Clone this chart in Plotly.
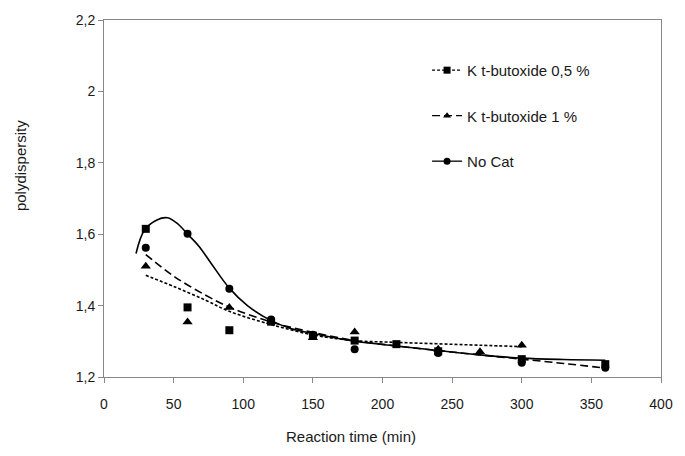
import plotly.graph_objects as go

# ---- data ----
sq_x = [30, 60, 90, 120, 150, 180, 210, 240, 300, 360]
sq_y = [1.615, 1.395, 1.331, 1.355, 1.316, 1.302, 1.292, 1.272, 1.250, 1.236]

tri_x = [30, 60, 90, 120, 150, 180, 240, 270, 300]
tri_y = [1.510, 1.354, 1.395, 1.356, 1.310, 1.326, 1.278, 1.271, 1.289]

cir_x = [30, 60, 90, 120, 150, 180, 240, 300, 360]
cir_y = [1.562, 1.601, 1.447, 1.361, 1.318, 1.278, 1.267, 1.240, 1.226]

# trend curves
dot_x = [30, 51, 73, 90, 120, 150, 180, 210, 240, 270, 300]
dot_y = [1.485, 1.452, 1.415, 1.384, 1.347, 1.318, 1.302, 1.297, 1.293, 1.289, 1.285]

dash_x = [30, 51, 73, 90, 120, 150, 180, 210, 240, 270, 300, 330, 360]
dash_y = [1.543, 1.480, 1.429, 1.396, 1.354, 1.325, 1.302, 1.287, 1.274, 1.262, 1.250, 1.238, 1.225]

sol_x = [23, 29, 38, 45.5, 53, 60, 68, 77, 90, 103, 119, 134, 150, 180, 210, 240, 270, 300, 330, 360]
sol_y = [1.546, 1.611, 1.640, 1.646, 1.629, 1.600, 1.567, 1.518, 1.449, 1.400, 1.360, 1.336, 1.322, 1.300, 1.287, 1.274, 1.262, 1.253, 1.249, 1.247]

legend_names = ["K t-butoxide 0,5 %", "K t-butoxide 1 %", "No Cat"]

x_ticks = [0, 50, 100, 150, 200, 250, 300, 350, 400]
y_ticks = [1.2, 1.4, 1.6, 1.8, 2.0, 2.2]
y_tick_text = ["1,2", "1,4", "1,6", "1,8", "2", "2,2"]

FONT = "Liberation Sans, Arial, sans-serif"
BLK = "black"
TXT = "#1a1a1a"

fig = go.Figure()

# curves
fig.add_trace(go.Scatter(x=dot_x, y=dot_y, mode="lines", line=dict(color=BLK, width=1.6, dash="3px,2px", shape="spline"),
                         showlegend=False, hoverinfo="skip"))
fig.add_trace(go.Scatter(x=dash_x, y=dash_y, mode="lines", line=dict(color=BLK, width=1.6, dash="8px,4px", shape="spline"),
                         showlegend=False, hoverinfo="skip"))
fig.add_trace(go.Scatter(x=sol_x, y=sol_y, mode="lines", line=dict(color=BLK, width=1.6, shape="spline"),
                         showlegend=False, hoverinfo="skip"))

# markers
fig.add_trace(go.Scatter(x=sq_x, y=sq_y, mode="markers", marker=dict(symbol="square", size=8, color=BLK),
                         showlegend=False))
fig.add_trace(go.Scatter(x=tri_x, y=tri_y, mode="markers", marker=dict(symbol="triangle-up", size=9, color=BLK),
                         showlegend=False))
fig.add_trace(go.Scatter(x=cir_x, y=cir_y, mode="markers", marker=dict(symbol="circle", size=8, color=BLK),
                         showlegend=False))

# legend-only entries
leg_styles = [("3px,2px", "square"), ("8px,4px", "triangle-up"), ("solid", "circle")]
for i, (nm, (dsh, sym)) in enumerate(zip(legend_names, leg_styles)):
    fig.add_trace(go.Scatter(x=[None], y=[None], mode="lines+markers", name=nm,
                             line=dict(color=BLK, width=1.3, dash=dsh),
                             marker=dict(symbol=sym, size=7, color=BLK),
                             legendgroup=f"g{i}"))

axis_common = dict(showline=True, linecolor="#888888", linewidth=1, mirror=True,
                   ticks="outside", ticklen=5, tickcolor="#888888", showgrid=False, zeroline=False,
                   tickfont=dict(family=FONT, size=14, color=TXT))

fig.update_layout(
    width=685, height=456,
    margin=dict(l=104, r=16, t=19, b=79),
    paper_bgcolor="white", plot_bgcolor="white",
    font=dict(family=FONT, size=14, color=TXT),
    xaxis=dict(range=[0, 400], tickvals=x_ticks, ticklabelstandoff=9, **axis_common),
    yaxis=dict(range=[1.2, 2.2], tickvals=y_ticks, ticktext=y_tick_text, **axis_common),
    legend=dict(x=0.58, y=0.905, xanchor="left", yanchor="top", traceorder="grouped", tracegroupgap=23,
                font=dict(family=FONT, size=15, color=TXT), bgcolor="rgba(0,0,0,0)"),
    annotations=[
        dict(text="Reaction time (min)", xref="paper", yref="paper", x=0.444, y=-0.168,
             xanchor="center", yanchor="middle", showarrow=False,
             font=dict(family=FONT, size=15, color=TXT)),
        dict(text="polydispersity", xref="paper", yref="paper", x=-0.150, y=0.592, textangle=-90,
             xanchor="center", yanchor="middle", showarrow=False,
             font=dict(family=FONT, size=15, color=TXT)),
    ],
)

fig.write_html("out.html", config={"displayModeBar": False},
               post_script="document.body.style.margin='0px';document.body.style.overflow='hidden';")
